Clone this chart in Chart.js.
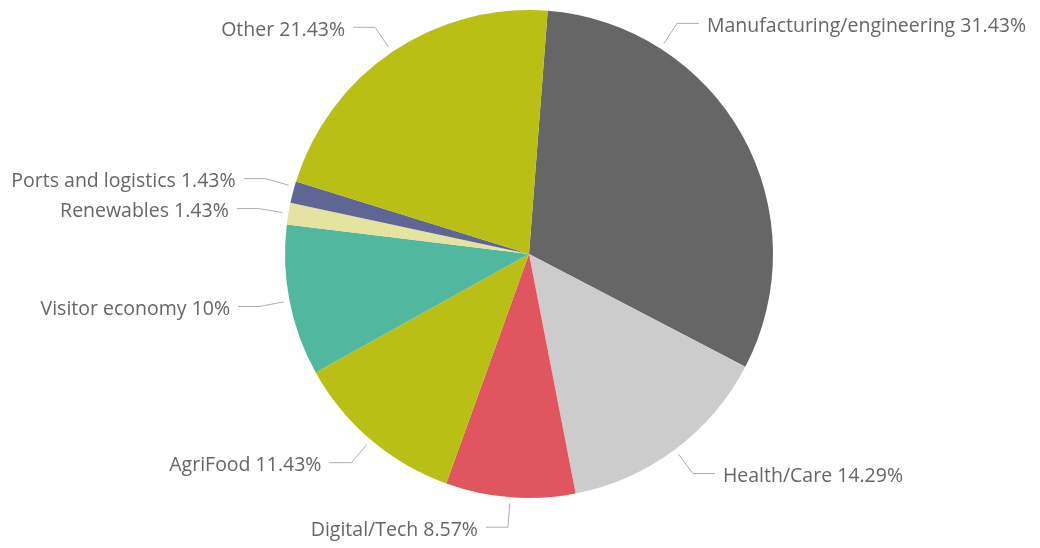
<!DOCTYPE html>
<html>
<head>
<meta charset="utf-8">
<script src="https://cdn.jsdelivr.net/npm/chart.js@4"></script>
<style>
  html, body { margin: 0; padding: 0; background: #fff; }
  #wrap { width: 1040px; height: 548px; }
</style>
</head>
<body>
<div id="wrap"><canvas id="myChart" width="1040" height="548"></canvas></div>
<script>
// sectors, clockwise from the top
var sectors = ['Manufacturing/engineering', 'Health/Care', 'Digital/Tech', 'AgriFood',
               'Visitor economy', 'Renewables', 'Ports and logistics', 'Other'];
var shares = [31.43, 14.29, 8.57, 11.43, 10, 1.43, 1.43, 21.43];
var sliceColors = ['#666666', '#cccccc', '#e0555f', '#b9bf15',
                   '#52b79f', '#e4e39f', '#5f6595', '#b9bf15'];
// where along each slice the leader line starts (0 = start, 1 = end)
var labelAnchor = [0.25, 0.5, 0.5, 0.5, 0.5, 0.5, 0.75, 0.5];

var labelFont = '19.5px "Open Sans", sans-serif';

// draws "name xx%" outside the pie with a bent leader line
var outsideLabels = {
    id: 'outsideLabels',
    afterDatasetsDraw: function (chart) {
        var ctx = chart.ctx;
        var arcs = chart.getDatasetMeta(0).data;
        ctx.save();
        ctx.font = labelFont;
        ctx.textBaseline = 'middle';
        arcs.forEach(function (arc, i) {
            var p = arc.getProps(['x', 'y', 'startAngle', 'endAngle', 'outerRadius'], true);
            var a = p.startAngle + labelAnchor[i] * (p.endAngle - p.startAngle);
            var cos = Math.cos(a), sin = Math.sin(a);
            var r0 = p.outerRadius + 6, r1 = r0 + 24;
            var x0 = p.x + r0 * cos, y0 = p.y + r0 * sin;
            var x1 = p.x + r1 * cos, y1 = p.y + r1 * sin;
            var dir = cos >= 0 ? 1 : -1;
            var x2 = x1 + dir * 22;
            ctx.strokeStyle = '#adadad';
            ctx.lineWidth = 1;
            ctx.beginPath();
            ctx.moveTo(x0, y0);
            ctx.lineTo(x1, y1);
            ctx.lineTo(x2, y1);
            ctx.stroke();
            ctx.fillStyle = '#666666';
            ctx.textAlign = dir > 0 ? 'left' : 'right';
            ctx.fillText(sectors[i] + ' ' + shares[i] + '%', x2 + dir * 8, y1 + 3);
        });
        ctx.restore();
    }
};

var ctx = document.getElementById('myChart').getContext('2d');
var myChart = new Chart(ctx, {
    type: 'pie',
    data: {
        labels: sectors,
        datasets: [{
            data: shares,
            backgroundColor: sliceColors,
            borderWidth: 0
        }]
    },
    options: {
        responsive: false,
        animation: false,
        rotation: 4.4,
        layout: { padding: { top: 10, bottom: 50, left: 285, right: 267 } },
        plugins: {
            legend: { display: false },
            tooltip: { enabled: false }
        }
    },
    plugins: [outsideLabels]
});
</script>
</body>
</html>
